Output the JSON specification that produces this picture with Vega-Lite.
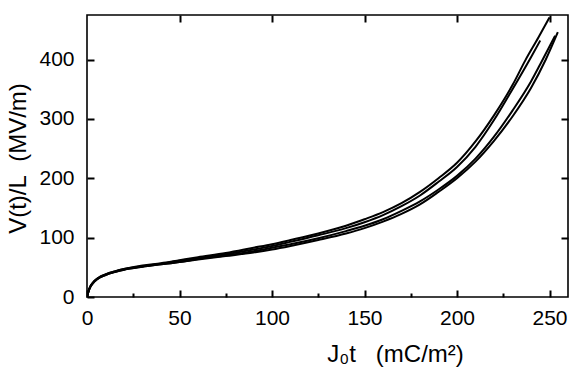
{
  "$schema": "https://vega.github.io/schema/vega-lite/v6.json",
  "autosize": "none",
  "width": 481,
  "height": 282,
  "padding": {"left": 87, "top": 15, "right": 14, "bottom": 72},
  "background": "white",
  "config": {
    "view": {"stroke": "black", "strokeWidth": 1.6}
  },
  "data": {"values": [
    {"s":"C1","x":0,"y":0},{"s":"C1","x":1,"y":12},{"s":"C1","x":2,"y":19},{"s":"C1","x":4,"y":27},{"s":"C1","x":7,"y":34},{"s":"C1","x":10,"y":38},{"s":"C1","x":15,"y":43},{"s":"C1","x":20,"y":47},{"s":"C1","x":30,"y":53},{"s":"C1","x":40,"y":57},{"s":"C1","x":50,"y":62},{"s":"C1","x":60,"y":67},{"s":"C1","x":75,"y":74},{"s":"C1","x":90,"y":83},{"s":"C1","x":100,"y":89},{"s":"C1","x":110,"y":96},{"s":"C1","x":125,"y":107},{"s":"C1","x":140,"y":120},{"s":"C1","x":150,"y":131},{"s":"C1","x":160,"y":143},{"s":"C1","x":170,"y":158},{"s":"C1","x":180,"y":177},{"s":"C1","x":190,"y":200},{"s":"C1","x":200,"y":226},{"s":"C1","x":210,"y":262},{"s":"C1","x":220,"y":306},{"s":"C1","x":230,"y":357},{"s":"C1","x":237,"y":399},{"s":"C1","x":244,"y":437},{"s":"C1","x":250,"y":471},
    {"s":"C2","x":0,"y":0},{"s":"C2","x":1,"y":12},{"s":"C2","x":2,"y":19},{"s":"C2","x":4,"y":27},{"s":"C2","x":7,"y":34},{"s":"C2","x":10,"y":38},{"s":"C2","x":15,"y":43},{"s":"C2","x":20,"y":47},{"s":"C2","x":30,"y":52},{"s":"C2","x":40,"y":56},{"s":"C2","x":50,"y":61},{"s":"C2","x":60,"y":65},{"s":"C2","x":75,"y":72},{"s":"C2","x":90,"y":80},{"s":"C2","x":100,"y":86},{"s":"C2","x":110,"y":93},{"s":"C2","x":125,"y":104},{"s":"C2","x":140,"y":116},{"s":"C2","x":150,"y":126},{"s":"C2","x":160,"y":138},{"s":"C2","x":170,"y":153},{"s":"C2","x":180,"y":171},{"s":"C2","x":190,"y":194},{"s":"C2","x":200,"y":219},{"s":"C2","x":210,"y":253},{"s":"C2","x":220,"y":298},{"s":"C2","x":230,"y":350},{"s":"C2","x":240,"y":404},{"s":"C2","x":245,"y":432},
    {"s":"C3","x":0,"y":0},{"s":"C3","x":1,"y":11},{"s":"C3","x":2,"y":18},{"s":"C3","x":4,"y":26},{"s":"C3","x":7,"y":33},{"s":"C3","x":10,"y":37},{"s":"C3","x":15,"y":42},{"s":"C3","x":20,"y":46},{"s":"C3","x":30,"y":51},{"s":"C3","x":40,"y":55},{"s":"C3","x":50,"y":59},{"s":"C3","x":60,"y":64},{"s":"C3","x":75,"y":70},{"s":"C3","x":90,"y":77},{"s":"C3","x":100,"y":83},{"s":"C3","x":110,"y":89},{"s":"C3","x":125,"y":99},{"s":"C3","x":140,"y":111},{"s":"C3","x":150,"y":120},{"s":"C3","x":160,"y":131},{"s":"C3","x":170,"y":145},{"s":"C3","x":180,"y":161},{"s":"C3","x":190,"y":181},{"s":"C3","x":200,"y":204},{"s":"C3","x":210,"y":233},{"s":"C3","x":220,"y":270},{"s":"C3","x":230,"y":314},{"s":"C3","x":240,"y":363},{"s":"C3","x":245,"y":392},{"s":"C3","x":253,"y":440},
    {"s":"C4","x":0,"y":0},{"s":"C4","x":1,"y":11},{"s":"C4","x":2,"y":18},{"s":"C4","x":4,"y":26},{"s":"C4","x":7,"y":33},{"s":"C4","x":10,"y":37},{"s":"C4","x":15,"y":42},{"s":"C4","x":20,"y":46},{"s":"C4","x":30,"y":51},{"s":"C4","x":40,"y":55},{"s":"C4","x":50,"y":59},{"s":"C4","x":60,"y":63},{"s":"C4","x":75,"y":69},{"s":"C4","x":90,"y":75},{"s":"C4","x":100,"y":80},{"s":"C4","x":110,"y":86},{"s":"C4","x":125,"y":96},{"s":"C4","x":140,"y":107},{"s":"C4","x":150,"y":116},{"s":"C4","x":160,"y":127},{"s":"C4","x":170,"y":140},{"s":"C4","x":180,"y":156},{"s":"C4","x":190,"y":177},{"s":"C4","x":200,"y":200},{"s":"C4","x":210,"y":228},{"s":"C4","x":220,"y":263},{"s":"C4","x":230,"y":304},{"s":"C4","x":240,"y":352},{"s":"C4","x":248,"y":400},{"s":"C4","x":254.5,"y":446}
  ]},
  "resolve": {"axis": {"x": "independent", "y": "independent"}},
  "layer": [
    {
      "mark": {"type": "line", "strokeWidth": 2, "clip": true, "interpolate": "monotone"},
      "encoding": {
        "x": {"field": "x", "type": "quantitative", "scale": {"domain": [0, 260], "nice": false, "zero": false},
              "axis": {"orient": "bottom", "offset": -7, "values": [0, 50, 100, 150, 200, 250], "zindex": 1, "grid": false, "domain": false, "ticks": true, "tickColor": "#000000", "tickOpacity": 1, "tickWidth": 2, "tickSize": 7, "labelPadding": 10, "labelFlush": false, "labelFont": "Liberation Sans", "labelFontSize": 21, "labelColor": "black", "title": "J₀t\u00a0\u00a0\u00a0(mC/m²)", "titleFont": "Liberation Sans", "titleFontSize": 24, "titleFontWeight": "normal", "titleColor": "black", "titleX": 308, "titleY": 71, "titleBaseline": "alphabetic", "titleAlign": "center"}},
        "y": {"field": "y", "type": "quantitative", "scale": {"domain": [0, 475], "nice": false, "zero": false},
              "axis": {"orient": "left", "offset": -7, "values": [0, 100, 200, 300, 400], "zindex": 1, "grid": false, "domain": false, "ticks": true, "tickColor": "#000000", "tickOpacity": 1, "tickWidth": 2, "tickSize": 7, "labelPadding": 13, "labelFlush": false, "labelFont": "Liberation Sans", "labelFontSize": 21, "labelColor": "black", "title": "V(t)/L\u00a0\u00a0(MV/m)", "titleFont": "Liberation Sans", "titleFontSize": 24, "titleFontWeight": "normal", "titleColor": "black", "titleX": -76, "titleY": 143, "titleAngle": -90, "titleAlign": "center", "titleBaseline": "middle"}},
        "color": {"field": "s", "type": "nominal", "scale": {"range": ["black", "black", "black", "black"]}, "legend": null}
      }
    },
    {
      "mark": {"type": "line", "opacity": 0},
      "encoding": {
        "x": {"field": "x", "type": "quantitative", "scale": {"domain": [0, 260], "nice": false, "zero": false},
              "axis": {"orient": "bottom", "offset": -4, "values": [25, 75, 125, 175, 225], "zindex": 1, "grid": false, "domain": false, "ticks": true, "tickColor": "#000000", "tickOpacity": 1, "tickWidth": 2, "tickSize": 4, "labels": false, "title": null}},
        "y": {"field": "y", "type": "quantitative", "scale": {"domain": [0, 475], "nice": false, "zero": false},
              "axis": {"orient": "right", "offset": -7, "values": [100, 200, 300, 400], "zindex": 1, "grid": false, "domain": false, "ticks": true, "tickColor": "#000000", "tickOpacity": 1, "tickWidth": 2, "tickSize": 7, "labels": false, "title": null}},
        "detail": {"field": "s"}
      }
    },
    {
      "mark": {"type": "line", "opacity": 0},
      "encoding": {
        "x": {"field": "x", "type": "quantitative", "scale": {"domain": [0, 260], "nice": false, "zero": false},
              "axis": {"orient": "top", "offset": -7, "values": [50, 100, 150, 200, 250], "zindex": 1, "grid": false, "domain": false, "ticks": true, "tickColor": "#000000", "tickOpacity": 1, "tickWidth": 2, "tickSize": 7, "labels": false, "title": null}},
        "y": {"field": "y", "type": "quantitative", "scale": {"domain": [0, 475], "nice": false, "zero": false}, "axis": null},
        "detail": {"field": "s"}
      }
    }
  ]
}
